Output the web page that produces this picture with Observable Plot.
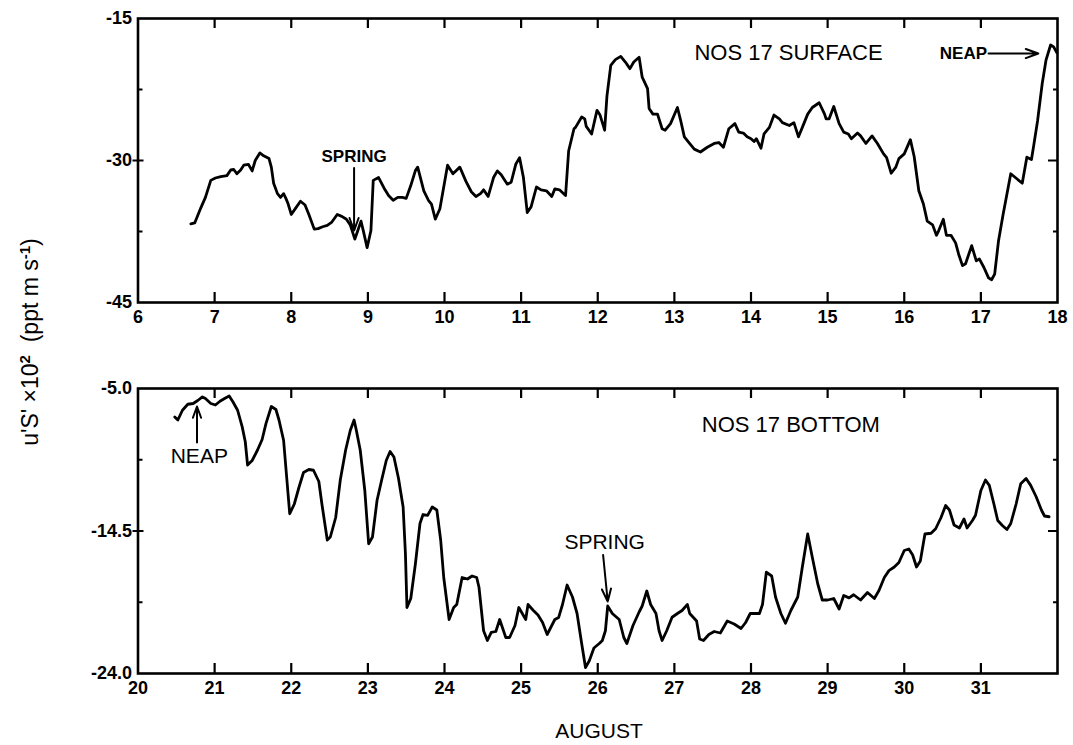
<!DOCTYPE html>
<html>
<head>
<meta charset="utf-8">
<script src="https://cdn.jsdelivr.net/npm/d3@7"></script>
<script src="https://cdn.jsdelivr.net/npm/@observablehq/plot@0.6"></script>
<style>
  html, body { margin: 0; padding: 0; background: #fff; }
  #wrap { position: relative; width: 1073px; height: 745px; overflow: hidden; background: #fff; font-family: "Liberation Sans", Arial, sans-serif; color: #000; }
  #panelTop, #panelBottom { position: absolute; left: 0; }
  #panelTop { top: 0; }
  #panelBottom { top: 370px; }
  #ylab { position: absolute; left: 30px; top: 342px; transform: translate(-50%, -50%) rotate(-90deg); white-space: nowrap; font-size: 23px; }
  #ylab sup { font-size: 15px; font-weight: bold; }
  #xlab { position: absolute; left: 599px; top: 731px; transform: translate(-50%, -50%); font-size: 21px; font-weight: 500; white-space: nowrap; }
</style>
</head>
<body>
<div id="wrap">
  <div id="panelTop"></div>
  <div id="panelBottom"></div>
  <div id="ylab">u'S' ×10<sup>2</sup> &nbsp;(ppt m s<sup>-1</sup>)</div>
  <div id="xlab">AUGUST</div>
</div>
<script>
// ---------- DATA ----------
// Top panel: NOS 17 surface (day of August, u'S' x10^2)
const surfaceDay = [6.69,6.74,6.82,6.88,6.95,7.01,7.08,7.16,7.21,7.25,7.29,7.34,7.38,7.44,7.49,7.53,7.59,7.64,7.71,7.74,7.77,7.82,7.86,7.90,7.93,7.96,8.00,8.06,8.12,8.18,8.23,8.30,8.35,8.41,8.47,8.53,8.60,8.66,8.72,8.77,8.83,8.86,8.91,8.94,8.99,9.04,9.07,9.14,9.21,9.27,9.33,9.39,9.45,9.50,9.56,9.62,9.65,9.73,9.79,9.83,9.88,9.94,10.04,10.11,10.20,10.28,10.35,10.41,10.47,10.51,10.57,10.64,10.69,10.74,10.82,10.87,10.93,10.98,11.03,11.08,11.13,11.20,11.26,11.33,11.40,11.44,11.50,11.58,11.62,11.69,11.71,11.79,11.83,11.85,11.92,11.99,12.03,12.09,12.12,12.17,12.23,12.30,12.36,12.42,12.47,12.54,12.58,12.65,12.67,12.72,12.78,12.84,12.88,12.95,13.04,13.08,13.13,13.19,13.26,13.34,13.43,13.52,13.58,13.64,13.71,13.79,13.84,13.90,13.95,14.00,14.04,14.07,14.13,14.17,14.24,14.30,14.37,14.41,14.50,14.56,14.62,14.67,14.74,14.80,14.89,14.96,14.98,15.02,15.08,15.15,15.21,15.27,15.31,15.39,15.43,15.50,15.58,15.65,15.73,15.77,15.83,15.89,15.93,16.00,16.08,16.13,16.19,16.25,16.30,16.37,16.42,16.45,16.51,16.55,16.61,16.67,16.71,16.76,16.80,16.88,16.94,16.98,17.04,17.10,17.14,17.18,17.23,17.29,17.39,17.45,17.54,17.60,17.66,17.69,17.74,17.80,17.85,17.91,17.95,17.99];
const surfaceVal = [-36.7,-36.6,-35.0,-33.9,-32.1,-31.85,-31.7,-31.6,-31.0,-30.95,-31.4,-31.0,-30.5,-30.4,-31.1,-30.0,-29.2,-29.5,-29.8,-30.7,-32.4,-33.5,-33.9,-33.5,-34.0,-34.6,-35.7,-35.0,-34.3,-34.7,-35.7,-37.25,-37.2,-37.0,-36.85,-36.5,-35.7,-35.9,-36.2,-36.8,-38.3,-37.6,-36.4,-37.4,-39.2,-37.4,-32.1,-31.8,-32.9,-33.7,-34.2,-33.9,-33.9,-34.0,-32.65,-31.07,-30.7,-33.2,-34.2,-34.6,-36.2,-35.1,-30.5,-31.4,-30.7,-32.2,-33.3,-33.8,-33.5,-33.1,-33.8,-31.8,-31.1,-31.5,-32.5,-32.3,-30.4,-29.7,-31.8,-35.5,-34.9,-32.8,-33.1,-33.2,-33.8,-33.0,-33.1,-33.7,-29.0,-26.65,-26.5,-25.4,-25.6,-26.4,-27.2,-24.7,-25.2,-26.8,-23.2,-19.95,-19.35,-19.0,-19.6,-20.3,-19.6,-19.1,-21.2,-22.4,-24.5,-25.1,-25.1,-26.65,-26.8,-26.1,-24.4,-25.7,-27.5,-28.1,-28.8,-29.1,-28.6,-28.2,-28.1,-28.6,-26.65,-26.1,-27.0,-27.1,-27.5,-27.7,-28.0,-27.7,-28.7,-27.2,-26.5,-25.2,-25.6,-26.0,-26.3,-26.0,-27.5,-26.5,-25.1,-24.4,-23.9,-25.1,-25.6,-25.6,-24.3,-26.1,-27.0,-27.2,-27.7,-27.1,-27.4,-28.2,-27.4,-28.2,-29.3,-29.7,-31.35,-30.7,-29.8,-29.3,-27.8,-29.6,-33.2,-34.6,-36.4,-36.8,-37.9,-37.4,-36.2,-37.9,-37.9,-38.7,-39.9,-41.1,-40.9,-39.0,-40.6,-40.4,-41.3,-42.4,-42.6,-42.0,-38.5,-35.7,-31.4,-31.8,-32.4,-29.65,-29.9,-28.4,-25.8,-21.9,-19.4,-17.8,-18.0,-18.6];

// Bottom panel: NOS 17 bottom
const bottomDay = [20.48,20.52,20.58,20.65,20.72,20.78,20.84,20.88,20.95,21.01,21.07,21.13,21.19,21.24,21.30,21.36,21.40,21.43,21.49,21.56,21.62,21.67,21.74,21.80,21.84,21.90,21.94,21.98,22.04,22.10,22.16,22.23,22.29,22.36,22.40,22.47,22.51,22.58,22.64,22.71,22.77,22.82,22.85,22.90,22.96,23.01,23.06,23.12,23.18,23.24,23.29,23.34,23.40,23.46,23.49,23.51,23.56,23.62,23.68,23.72,23.78,23.84,23.90,23.95,23.99,24.06,24.12,24.16,24.23,24.30,24.36,24.42,24.45,24.51,24.56,24.61,24.67,24.72,24.80,24.85,24.92,24.97,25.06,25.09,25.16,25.22,25.28,25.34,25.39,25.44,25.49,25.54,25.60,25.67,25.73,25.79,25.84,25.89,25.95,26.02,26.06,26.10,26.13,26.19,26.28,26.34,26.38,26.46,26.54,26.58,26.64,26.69,26.76,26.80,26.84,26.90,26.97,27.04,27.10,27.17,27.20,27.29,27.33,27.38,27.45,27.52,27.60,27.69,27.78,27.87,27.93,27.99,28.11,28.15,28.20,28.27,28.32,28.39,28.45,28.52,28.61,28.67,28.74,28.80,28.87,28.93,29.00,29.08,29.15,29.21,29.28,29.34,29.43,29.52,29.61,29.67,29.74,29.80,29.87,29.93,30.00,30.06,30.11,30.16,30.21,30.27,30.35,30.41,30.48,30.54,30.59,30.65,30.72,30.78,30.82,30.89,30.93,31.00,31.06,31.11,31.17,31.22,31.28,31.34,31.39,31.46,31.52,31.59,31.65,31.72,31.79,31.83,31.89];
const bottomVal = [-6.9,-7.1,-6.45,-6.05,-6.0,-5.8,-5.56,-5.67,-6.0,-6.1,-5.85,-5.67,-5.5,-5.9,-6.45,-7.56,-8.55,-10.1,-9.8,-9.1,-8.4,-7.34,-6.2,-6.4,-7.1,-8.45,-10.9,-13.35,-12.7,-11.6,-10.6,-10.4,-10.45,-11.2,-12.7,-15.1,-14.9,-13.6,-11.1,-9.1,-7.8,-7.1,-7.8,-9.1,-11.8,-15.35,-14.9,-12.45,-11.1,-9.8,-9.2,-9.57,-11.0,-12.9,-16.0,-19.6,-19.0,-16.7,-14.0,-13.4,-13.46,-12.9,-13.1,-15.1,-17.6,-20.4,-19.6,-19.4,-17.6,-17.7,-17.5,-17.6,-18.25,-21.15,-21.8,-21.26,-21.2,-20.4,-21.6,-21.6,-20.8,-19.6,-20.4,-19.4,-19.8,-20.1,-20.6,-21.4,-20.9,-20.4,-20.26,-19.4,-18.1,-18.9,-20.0,-22.0,-23.6,-23.15,-22.3,-22.0,-21.8,-21.15,-19.5,-20.0,-20.4,-21.6,-22.0,-20.8,-19.9,-19.5,-18.5,-19.4,-20.0,-21.15,-21.8,-21.15,-20.25,-20.0,-19.8,-19.4,-20.0,-20.5,-21.7,-21.8,-21.4,-21.2,-21.3,-20.5,-20.7,-21.0,-20.6,-20.0,-20.0,-19.4,-17.25,-17.5,-18.9,-20.0,-20.65,-19.8,-18.9,-16.9,-14.7,-16.25,-18.0,-19.1,-19.1,-19.0,-19.7,-18.8,-18.96,-18.75,-19.1,-18.6,-19.0,-18.47,-17.6,-17.14,-16.9,-16.6,-15.8,-15.7,-16.1,-16.9,-16.5,-14.7,-14.65,-14.35,-13.6,-12.8,-13.1,-14.1,-14.3,-13.7,-14.3,-13.8,-13.45,-11.8,-11.1,-11.46,-12.7,-13.8,-14.13,-14.4,-14.0,-12.7,-11.35,-11.0,-11.46,-12.2,-13.1,-13.5,-13.55];

// Axis tick values / labels
const topDayLabels = [6,7,8,9,10,11,12,13,14,15,16,17,18];
const topDayTicks = [7,8,9,10,11,12,13,14,15,16,17];
const topYLabels = [-15,-30,-45];
const topYMajor = [-30];
const topYMinor = [-22.5,-37.5];
const bottomDayLabels = [20,21,22,23,24,25,26,27,28,29,30,31];
const bottomDayTicks = [21,22,23,24,25,26,27,28,29,30,31];
const bottomYLabels = [-5.0,-14.5,-24.0];
const bottomYMajor = [-14.5];
const bottomYMinor = [-9.75,-19.25];

// Annotations (text and arrows)
const topTitle = [{text: "NOS 17 SURFACE", day: 14.49, value: -18.6}];
const topSpring = [{text: "SPRING", day: 8.82, value: -29.55}];
const topSpringArrow = [{d1: 8.82, v1: -30.8, d2: 8.82, v2: -37.4}];
const topNeap = [{text: "NEAP", day: 17.08, value: -18.7}];
const topNeapArrow = [{d1: 17.10, v1: -18.7, d2: 17.75, v2: -18.7}];
const bottomTitle = [{text: "NOS 17 BOTTOM", day: 28.52, value: -7.45}];
const bottomSpring = [{text: "SPRING", day: 26.09, value: -15.25}];
const bottomSpringArrow = [{d1: 26.07, v1: -16.1, d2: 26.13, v2: -19.2}];
const bottomNeap = [{text: "NEAP", day: 20.80, value: -9.5}];
const bottomNeapArrow = [{d1: 20.77, v1: -8.6, d2: 20.77, v2: -6.2}];

// ---------- DRAW ----------
const W = 1073, H = 335, ML = 137.5, MR = 16, MT = 18;
const FONT = "'Liberation Sans', Arial, Helvetica, sans-serif";

function panel(opts) {
  const FW = W - ML - MR, FH = H - MT - opts.mb;
  const series = opts.days.map((d, i) => ({day: d, value: opts.vals[i]}));
  return Plot.plot({
    width: W, height: H,
    marginLeft: ML, marginRight: MR, marginTop: MT, marginBottom: opts.mb,
    style: {fontFamily: FONT, fontSize: "18px", background: "#fff", color: "#000", overflow: "visible"},
    x: {domain: opts.xDomain},
    y: {domain: opts.yDomain},
    marks: [
      Plot.axisX({ticks: opts.xLabels, tickSize: 0, tickPadding: 8, fontSize: 18, fontWeight: "bold", tickFormat: d => String(d)}),
      Plot.axisY({ticks: opts.yLabels, tickSize: 0, tickPadding: 6, fontSize: 18, fontWeight: "bold", tickFormat: opts.yFormat}),
      Plot.axisY({ticks: opts.yMajor, tickSize: 5, text: null, strokeWidth: 2}),
      // inward ticks on bottom / top edges
      Plot.tickX(opts.xTicks, {x: d => d, insetTop: FH - 10, strokeWidth: 2.2}),
      Plot.tickX(opts.xTicks, {x: d => d, insetBottom: FH - 10, strokeWidth: 2.2}),
      // inward ticks on left / right edges
      Plot.tickY(opts.yMajor, {y: d => d, insetRight: FW - 6, strokeWidth: 2}),
      Plot.tickY(opts.yMinor, {y: d => d, insetRight: FW - 5, strokeWidth: 2}),
      Plot.tickY(opts.yMajor, {y: d => d, insetLeft: FW - 9, strokeWidth: 2}),
      Plot.tickY(opts.yMinor, {y: d => d, insetLeft: FW - 4, strokeWidth: 2}),
      Plot.frame({stroke: "#000", strokeWidth: 2.6}),
      Plot.line(series, {x: "day", y: "value", stroke: "#000", strokeWidth: 2.8, strokeLinejoin: "round"}),
      Plot.text(opts.title, {x: "day", y: "value", text: "text", fontSize: 22, fontWeight: 500, fill: "#000", fontFamily: FONT}),
      ...opts.extra
    ]
  });
}

const chartTop = panel({
  days: surfaceDay, vals: surfaceVal, mb: 33,
  xDomain: [6, 18], yDomain: [-45, -15],
  xLabels: topDayLabels, xTicks: topDayTicks,
  yLabels: topYLabels, yMajor: topYMajor, yMinor: topYMinor,
  yFormat: d => String(d),
  title: topTitle,
  extra: [
    Plot.text(topSpring, {x: "day", y: "value", text: "text", fontSize: 17, fontWeight: "bold", fill: "#000"}),
    Plot.arrow(topSpringArrow, {x1: "d1", y1: "v1", x2: "d2", y2: "v2", stroke: "#000", strokeWidth: 2, headLength: 10, headAngle: 40}),
    Plot.text(topNeap, {x: "day", y: "value", text: "text", fontSize: 17, fontWeight: "bold", textAnchor: "end", fill: "#000"}),
    Plot.arrow(topNeapArrow, {x1: "d1", y1: "v1", x2: "d2", y2: "v2", stroke: "#000", strokeWidth: 2, headLength: 10, headAngle: 40})
  ]
});

const chartBottom = panel({
  days: bottomDay, vals: bottomVal, mb: 32,
  xDomain: [20, 32], yDomain: [-24, -5],
  xLabels: bottomDayLabels, xTicks: bottomDayTicks,
  yLabels: bottomYLabels, yMajor: bottomYMajor, yMinor: bottomYMinor,
  yFormat: d => d.toFixed(1),
  title: bottomTitle,
  extra: [
    Plot.text(bottomSpring, {x: "day", y: "value", text: "text", fontSize: 21, fill: "#000"}),
    Plot.arrow(bottomSpringArrow, {x1: "d1", y1: "v1", x2: "d2", y2: "v2", stroke: "#000", strokeWidth: 2, headLength: 10, headAngle: 40}),
    Plot.text(bottomNeap, {x: "day", y: "value", text: "text", fontSize: 21, fill: "#000"}),
    Plot.arrow(bottomNeapArrow, {x1: "d1", y1: "v1", x2: "d2", y2: "v2", stroke: "#000", strokeWidth: 2, headLength: 10, headAngle: 40})
  ]
});

document.getElementById("panelTop").appendChild(chartTop);
document.getElementById("panelBottom").appendChild(chartBottom);
</script>
</body>
</html>
